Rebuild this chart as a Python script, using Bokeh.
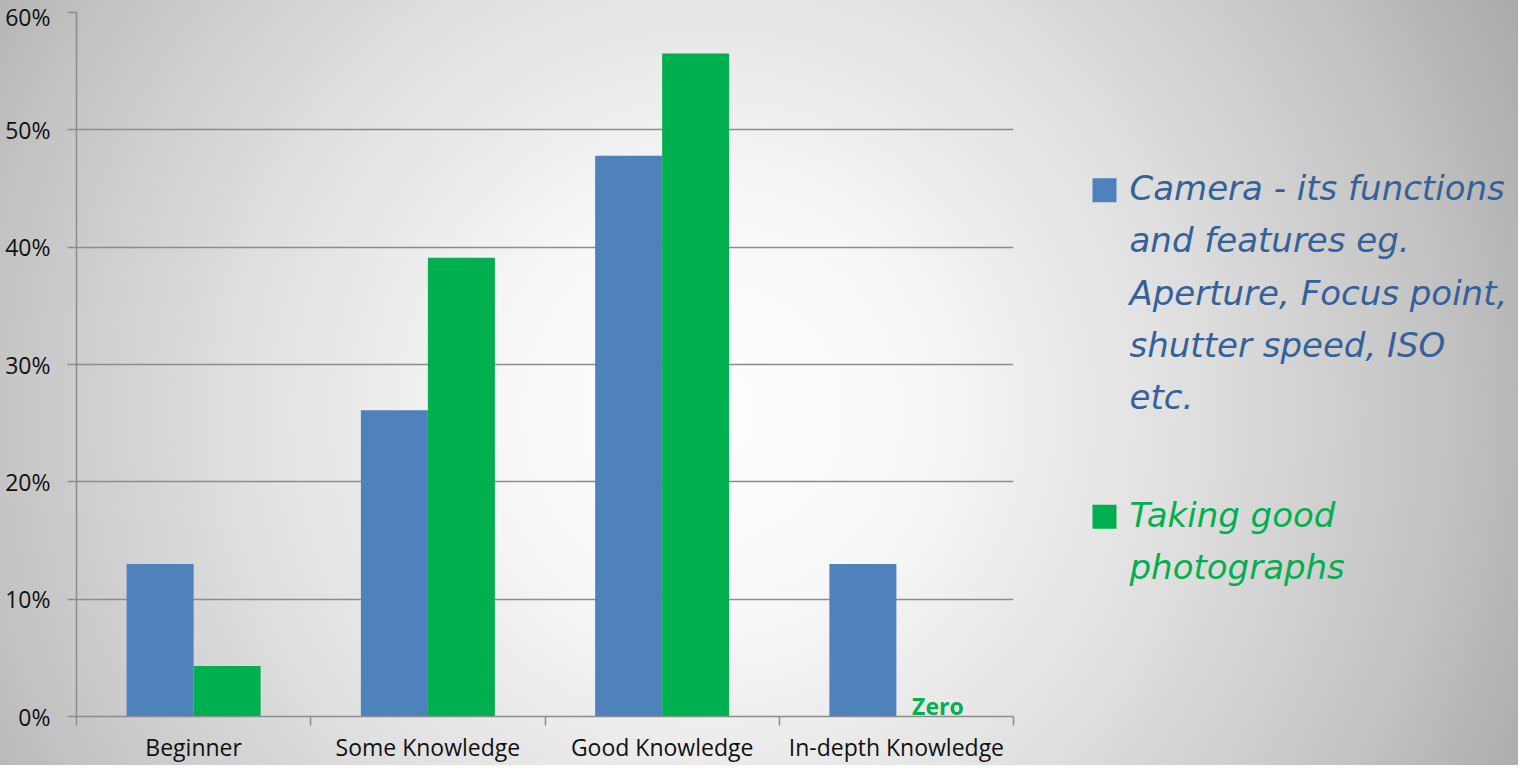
import numpy as np
from bokeh.plotting import figure
from bokeh.models import ColumnDataSource, Range1d, FixedTicker, PrintfTickFormatter
from bokeh.layouts import row
from bokeh.transform import dodge
from bokeh.core.properties import value
from bokeh.embed import file_html
from bokeh.resources import INLINE

# ---- data ----
categories = ["Beginner", "Some Knowledge", "Good Knowledge", "In-depth Knowledge"]
camera = [13.0, 26.1, 47.8, 13.0]      # % Camera - its functions and features
photos = [4.3, 39.1, 56.5, 0.0]        # % Taking good photographs
y_ticks = [0, 10, 20, 30, 40, 50, 60]
legend_camera = ["Camera - its functions", "and features eg.", "Aperture, Focus point,",
                 "shutter speed, ISO", "etc."]
legend_photos = ["Taking good", "photographs"]

BLUE = "#4f81bd"
GREEN = "#00b050"
BLUE_TXT = "#34619a"
GRAY = "#8c8c8c"
FONT = "Open Sans"

H = 765
W1 = 1018
W2 = 1518 - W1
TOP, BOTTOM_BORDER = 12, 48
FRAME_BOTTOM = H - BOTTOM_BORDER

BAR_W = 0.286

src = ColumnDataSource(dict(x=list(np.arange(len(categories)) + 0.5),
                            cat=categories, camera=camera, photos=photos))

p1 = figure(width=W1, height=H, x_range=Range1d(0, len(categories)), y_range=Range1d(0, 60),
            output_backend="svg", toolbar_location=None,
            min_border_left=76, min_border_right=5, min_border_top=TOP,
            min_border_bottom=BOTTOM_BORDER)
p1.background_fill_color = None
p1.border_fill_color = None
p1.outline_line_color = None

p1.vbar(x=dodge("x", -BAR_W / 2), top="camera", width=BAR_W, source=src,
        fill_color=BLUE, line_color=None)
p1.vbar(x=dodge("x", BAR_W / 2), top="photos", width=BAR_W, source=src,
        fill_color=GREEN, line_color=None)

# "Zero" annotation for zero-valued green bars
zx = [i + 0.5 + BAR_W / 2 for i, v in enumerate(photos) if v == 0]
zsrc = ColumnDataSource(dict(x=zx, y=[0] * len(zx), t=["Zero"] * len(zx)))
p1.text(x="x", y="y", text="t", source=zsrc, x_offset=8, y_offset=5,
        text_align="center", text_baseline="bottom", text_color=GREEN,
        text_font=value(FONT), text_font_style="bold", text_font_size="23px")

# axes
xa = p1.xaxis[0]
xa.ticker = FixedTicker(ticks=list(np.arange(len(categories)) + 0.5),
                        minor_ticks=list(range(len(categories) + 1)))
xa.major_label_overrides = {float(i + 0.5): c for i, c in enumerate(categories)}
xa.major_tick_line_color = None
xa.major_tick_in = 0
xa.major_tick_out = 9
xa.minor_tick_line_color = GRAY
xa.minor_tick_line_width = 1.5
xa.minor_tick_in = 0
xa.minor_tick_out = 9
xa.axis_line_color = GRAY
xa.axis_line_width = 1.5
xa.major_label_standoff = 5
xa.major_label_text_font = FONT
xa.major_label_text_font_size = "23px"
xa.major_label_text_color = "#111111"

ya = p1.yaxis[0]
ya.ticker = FixedTicker(ticks=y_ticks)
ya.formatter = PrintfTickFormatter(format="%d%%")
ya.major_tick_in = 0
ya.major_tick_out = 9
ya.major_tick_line_color = GRAY
ya.major_tick_line_width = 1.5
ya.minor_tick_line_color = None
ya.axis_line_color = GRAY
ya.axis_line_width = 1.5
ya.major_label_standoff = 17
ya.major_label_text_font = FONT
ya.major_label_text_font_size = "23px"
ya.major_label_text_color = "#111111"

p1.xgrid.visible = False
p1.ygrid.ticker = FixedTicker(ticks=y_ticks)
p1.ygrid.grid_line_color = GRAY
p1.ygrid.grid_line_width = 1.5

# ---- legend panel (its frame is aligned with the chart frame by the row) ----
p2 = figure(width=W2, height=H, x_range=Range1d(0, W2), y_range=Range1d(FRAME_BOTTOM, TOP),
            output_backend="svg", toolbar_location=None,
            x_axis_location=None, y_axis_location=None, min_border=0)
p2.background_fill_color = None
p2.border_fill_color = None
p2.outline_line_color = None
p2.grid.visible = False

LINE = 52.3
sq_x = 86
txt_x = 111
cam_y0 = 188   # vertical middle of first legend line
pho_y0 = 515
p2.scatter(x=[sq_x, sq_x], y=[190, 517], marker="square", size=24,
           fill_color=[BLUE, GREEN], line_color=None)
p2.text(x=[txt_x] * len(legend_camera), y=[cam_y0 + i * LINE for i in range(len(legend_camera))],
        text=legend_camera, text_color=BLUE_TXT, text_font=value("DejaVu Sans"),
        text_font_style="italic", text_font_size="34px", text_baseline="middle")
p2.text(x=[txt_x] * len(legend_photos), y=[pho_y0 + i * LINE for i in range(len(legend_photos))],
        text=legend_photos, text_color=GREEN, text_font=value("DejaVu Sans"),
        text_font_style="italic", text_font_size="34px", text_baseline="middle")

bg = ("radial-gradient(circle at 712px 412px, #fefefe 0px, #f8f8f8 200px, "
      "#dedede 490px, #c4c4c4 720px, #aaaaaa 900px)")
layout = row(p1, p2, styles={"background": bg})

open("out.html", "w").write(file_html(layout, INLINE))
